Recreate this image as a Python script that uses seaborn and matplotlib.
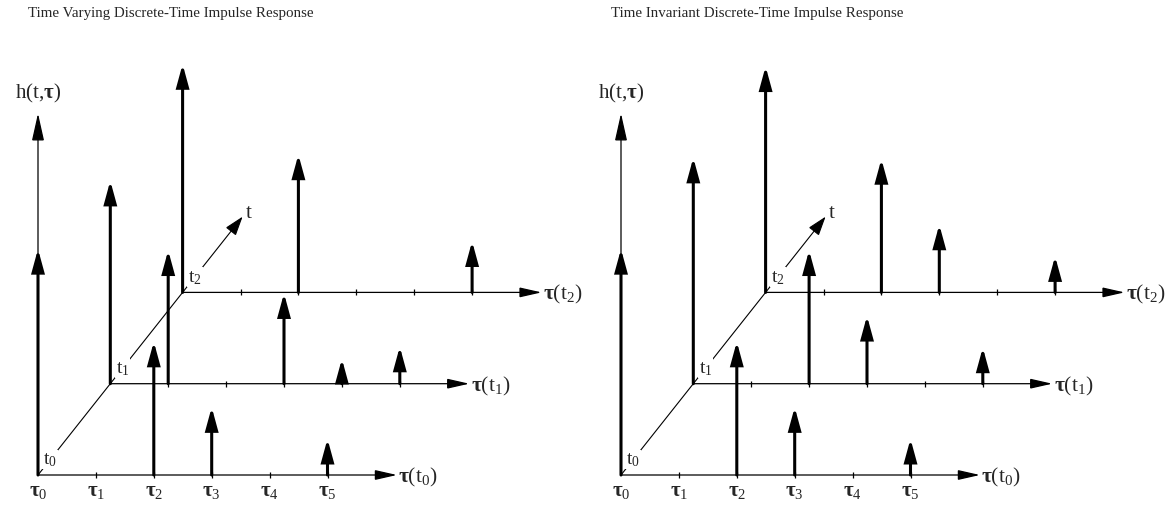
import matplotlib
matplotlib.use("Agg")
import matplotlib.pyplot as plt
import seaborn as sns

# ---------------- data ----------------
tau_idx = [0, 1, 2, 3, 4, 5]
t_rows = [0, 1, 2]
tau_labels = [r"$\mathbf{\tau}_{%d}$" % i for i in tau_idx]
row_labels = [r"$\mathrm{t}_{%d}$" % i for i in t_rows]
axis_labels = [r"$\mathbf{\tau}(\mathrm{t}_{%d})$" % i for i in t_rows]
titles = ["Time Varying Discrete-Time Impulse Response",
          "Time Invariant Discrete-Time Impulse Response"]

# time-varying impulse heights h(t_k, tau_i)  (0 = no impulse)
varying_t0 = [5.00, 0.00, 2.95, 1.50, 0.00, 0.80]
varying_t1 = [4.49, 2.95, 0.00, 2.00, 0.55, 0.82]
varying_t2 = [5.05, 0.00, 3.05, 0.00, 0.00, 1.13]
# time-invariant: same response at every t
invariant_t0 = [5.00, 0.00, 2.95, 1.50, 0.00, 0.80]
invariant_t1 = [5.00, 0.00, 2.95, 1.50, 0.00, 0.80]
invariant_t2 = [5.00, 0.00, 2.95, 1.50, 0.00, 0.80]

# ---------------- style ----------------
sns.set_theme(style="white")
plt.rcParams["font.family"] = ["Liberation Serif", "DejaVu Serif"]
plt.rcParams["mathtext.fontset"] = "custom"
plt.rcParams["mathtext.rm"] = "Liberation Serif"
plt.rcParams["mathtext.it"] = "Liberation Serif:italic"
plt.rcParams["mathtext.bf"] = "Liberation Serif:bold"
plt.rcParams["mathtext.fallback"] = "stix"

PX_TAU, PX_H = 57.9, 45.2          # pixels per tau step / per height unit
T_DX, T_DY = 72.3 / PX_TAU, 91.3 / PX_H   # oblique t-axis step
TAU_AXIS_LEN = 6.2
T_AXIS_LEN = 2.83
H_AXIS_LEN = 8.0
W, H = 1175, 506

fig = plt.figure(figsize=(W / 100, H / 100), dpi=100)


def proj(tau, t, h=0.0):
    return tau + t * T_DX, h + t * T_DY


def arrow(ax, p0, p1, z, lw, hl, hw, ms=20):
    ax.annotate("", xy=p1, xytext=p0, xycoords="data", textcoords="data",
                arrowprops=dict(arrowstyle="-|>,head_length=%g,head_width=%g" % (hl, hw),
                                mutation_scale=ms, lw=lw, color="black",
                                shrinkA=0, shrinkB=0, joinstyle="miter"),
                zorder=z)


def panel(ax, rows, title, ox_fig, ax_left):
    y_org = 476
    ox = ox_fig - ax_left
    ax.set_xlim(-ox / PX_TAU, (W / 2 - ox) / PX_TAU)
    ax.set_ylim(-(H - y_org) / PX_H, y_org / PX_H)
    ax.set_axis_off()

    # h axis
    arrow(ax, proj(0, 0), proj(0, 0, H_AXIS_LEN), 2, 0.9, 0.85, 0.19)
    hx, hy = proj(0, 0, H_AXIS_LEN + 0.2)
    ax.text(hx, hy, r"h(t,$\mathbf{\tau}$)", ha="center", va="bottom", fontsize=15, zorder=3)

    # oblique t axis
    arrow(ax, proj(0, 0), proj(0, T_AXIS_LEN), 1, 0.8, 0.6, 0.2)
    tx, ty = proj(0, T_AXIS_LEN)
    ax.annotate("t", (tx, ty), xytext=(2, 3), textcoords="offset points",
                ha="left", va="center", fontsize=15)
    for k, lab in zip(t_rows, row_labels):
        lx, ly = proj(0, k + 0.17)
        ax.text(lx, ly, lab, ha="center", va="center", fontsize=14, zorder=2,
                bbox=dict(boxstyle="square,pad=0.05", fc="white", ec="none"))

    # rows from back to front
    for k in reversed(t_rows):
        z = 3 + 2 * (2 - k)
        heights = rows[k]
        arrow(ax, proj(0, k), proj(TAU_AXIS_LEN, k), z, 0.9, 0.75, 0.17, ms=18)
        ex, ey = proj(TAU_AXIS_LEN, k)
        ax.annotate(axis_labels[k], (ex, ey), xytext=(1, -1), textcoords="offset points",
                    ha="left", va="center", fontsize=15.5)
        tk = [proj(i, k) for i in tau_idx[1:]]
        ax.plot([p[0] for p in tk], [p[1] for p in tk], ls="none", marker="|",
                ms=4.5, mew=0.9, color="black", zorder=z)
        for i, hv in zip(tau_idx, heights):
            if hv > 0:
                arrow(ax, proj(i, k), proj(i, k, hv), z + 1, 2.2, 0.66, 0.18)

    for i, lab in zip(tau_idx, tau_labels):
        x, y = proj(i, 0, -0.44)
        ax.text(x, y, lab, ha="center", va="baseline", fontsize=15)

    fig.text((ox_fig - 10) / W, 1 - 17.5 / H, title, ha="left", va="baseline", fontsize=10.8)


axL = fig.add_axes([0, 0, 0.5, 1])
axR = fig.add_axes([0.5, 0, 0.5, 1])
panel(axL, [varying_t0, varying_t1, varying_t2], titles[0], 38, 0)
panel(axR, [invariant_t0, invariant_t1, invariant_t2], titles[1], 621, W / 2)

fig.savefig("out.png", dpi=100, facecolor="white")
